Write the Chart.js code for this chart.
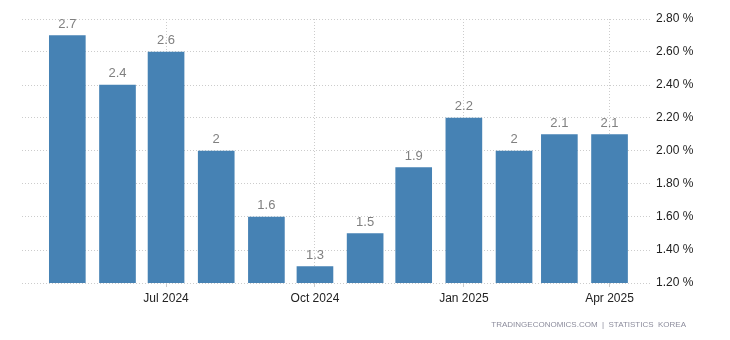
<!DOCTYPE html>
<html lang="en">
<head>
    <meta charset="UTF-8">
    <title>South Korea Inflation Rate</title>
    <style>
        body {
            margin: 0;
            background: #fff;
            overflow: hidden;
        }
        #wrap {
            position: relative;
            width: 730px;
            height: 340px;
        }
    </style>
    <script src="https://cdn.jsdelivr.net/npm/chart.js"></script>
</head>
<body>
    <div id="wrap">
        <canvas id="cpiChart" width="730" height="340"></canvas>
    </div>

    <script>
        // Monthly readings, May 2024 - Apr 2025
        const months = ['2024-05', '2024-06', '2024-07', '2024-08', '2024-09', '2024-10',
                        '2024-11', '2024-12', '2025-01', '2025-02', '2025-03', '2025-04'];
        const values = [2.7, 2.4, 2.6, 2, 1.6, 1.3, 1.5, 1.9, 2.2, 2, 2.1, 2.1];

        // x axis ticks
        const tickMonths = ['2024-07', '2024-10', '2025-01', '2025-04'];
        const tickLabels = ['Jul 2024', 'Oct 2024', 'Jan 2025', 'Apr 2025'];

        // y axis ticks
        const yTicks = [1.2, 1.4, 1.6, 1.8, 2.0, 2.2, 2.4, 2.6, 2.8];

        const FONT = 'Arial, "Liberation Sans", sans-serif';

        // days since the first month, so bars sit on a real time line
        const start = Date.UTC(2024, 4, 1);
        function dayOf(m) {
            const [y, mo] = m.split('-').map(Number);
            return (Date.UTC(y, mo - 1, 1) - start) / 86400000;
        }

        const points = months.map((m, i) => ({ x: dayOf(m), y: values[i] }));
        const tickDays = tickMonths.map(dayOf);

        // value labels above each bar
        const valueLabels = {
            id: 'valueLabels',
            afterDatasetsDraw(chart) {
                const ctx = chart.ctx;
                ctx.save();
                ctx.font = '13px ' + FONT;
                ctx.fillStyle = '#808080';
                ctx.textAlign = 'center';
                ctx.textBaseline = 'bottom';
                chart.getDatasetMeta(0).data.forEach((bar, i) => {
                    ctx.fillText(String(values[i]), bar.x, bar.y - 5);
                });
                ctx.restore();
            }
        };

        // source line in the bottom right corner
        const sourceNote = {
            id: 'sourceNote',
            afterDraw(chart) {
                const ctx = chart.ctx;
                ctx.save();
                ctx.font = '8px ' + FONT;
                ctx.fillStyle = '#8c8c9c';
                ctx.textAlign = 'right';
                ctx.textBaseline = 'middle';
                ctx.fillText('TRADINGECONOMICS.COM  |  STATISTICS  KOREA', 686, 325);
                ctx.restore();
            }
        };

        new Chart(document.getElementById('cpiChart'), {
            type: 'bar',
            data: {
                datasets: [{
                    data: points,
                    backgroundColor: '#4682B4',
                    barThickness: 36,
                    borderWidth: 0
                }]
            },
            options: {
                responsive: false,
                animation: false,
                layout: { padding: { left: 22, top: 19, right: 0, bottom: 0 } },
                plugins: {
                    legend: { display: false },
                    tooltip: { enabled: false }
                },
                scales: {
                    x: {
                        type: 'linear',
                        min: -28,
                        max: 360,
                        offset: false,
                        afterBuildTicks(scale) {
                            scale.ticks = tickDays.map(v => ({ value: v }));
                        },
                        afterFit(scale) { scale.height = 57; },
                        ticks: {
                            autoSkip: false,
                            maxRotation: 0,
                            padding: 4,
                            color: '#222',
                            font: { family: FONT, size: 12 },
                            callback: (v) => tickLabels[tickDays.indexOf(v)] || ''
                        },
                        grid: {
                            offset: false,
                            color: '#ccc',
                            tickLength: 4,
                            tickColor: '#ccc'
                        },
                        border: { display: false, dash: [1, 2] }
                    },
                    y: {
                        position: 'right',
                        min: 1.2,
                        max: 2.8,
                        afterBuildTicks(scale) {
                            scale.ticks = yTicks.map(v => ({ value: v }));
                        },
                        afterFit(scale) { scale.width = 80; },
                        ticks: {
                            padding: 6,
                            color: '#222',
                            font: { family: FONT, size: 12 },
                            callback: (v) => v.toFixed(2) + ' %'
                        },
                        grid: {
                            color: '#ccc',
                            drawTicks: false
                        },
                        border: { display: false, dash: [1, 2] }
                    }
                }
            },
            plugins: [valueLabels, sourceNote]
        });
    </script>
</body>
</html>
